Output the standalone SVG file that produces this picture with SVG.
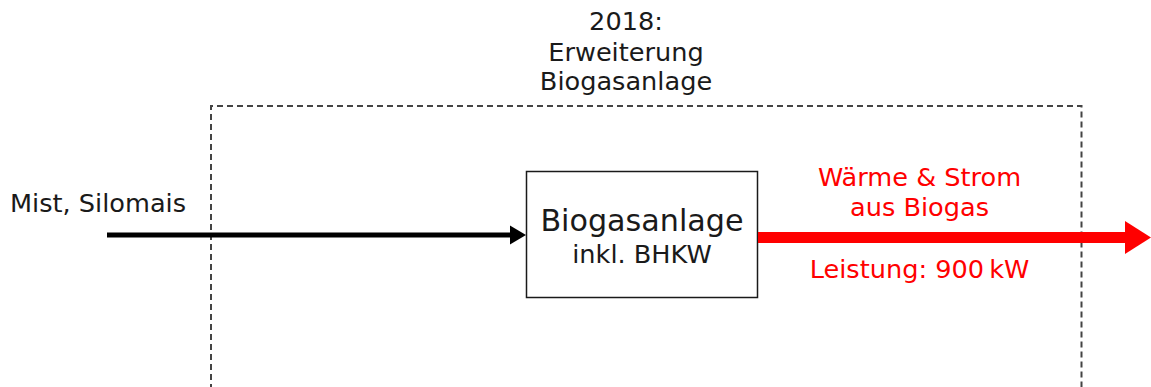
<svg xmlns="http://www.w3.org/2000/svg" width="1151" height="387" viewBox="0 0 1151 387">
<style>
text{font-family:"DejaVu Sans",Verdana,sans-serif;text-anchor:middle}
.t{font-size:25.6px;fill:#1a1a1a}
.r{font-size:25.6px;fill:#ff0000}
</style>
<rect width="1151" height="387" fill="#ffffff"/>
<g id="boundary">
<path d="M211,400 V106 H1081.5 V400" fill="none" stroke="#444444" stroke-width="2" stroke-dasharray="6,4"/>
<text class="t" x="626" y="30">2018:</text>
<text class="t" x="626" y="61">Erweiterung</text>
<text class="t" x="626" y="90">Biogasanlage</text>
</g>
<g id="input">
<text class="t" x="10" y="212" style="text-anchor:start">Mist, Silomais</text>
</g>
<g id="biogasanlage">
<rect x="526.5" y="171.5" width="231" height="126" fill="#ffffff" stroke="#1a1a1a" stroke-width="1.5"/>
<text x="642" y="231" style="font-size:30.2px;fill:#1a1a1a">Biogasanlage</text>
<text class="t" x="642" y="263">inkl. BHKW</text>
</g>
<g id="output">
<text class="r" x="919.5" y="186">Wärme &amp; Strom</text>
<text class="r" x="919.5" y="216">aus Biogas</text>
<text class="r" x="919.5" y="278">Leistung: 900&#8201;kW</text>
</g>
<g id="connectors">
<line x1="107" y1="235" x2="511" y2="235" stroke="#000000" stroke-width="5"/>
<polygon points="510,225.5 526,235 510,244.5" fill="#000000"/>
<line x1="758" y1="237.5" x2="1126" y2="237.5" stroke="#ff0000" stroke-width="11"/>
<polygon points="1125,221 1151,237.5 1125,254" fill="#ff0000"/>
</g>
</svg>
